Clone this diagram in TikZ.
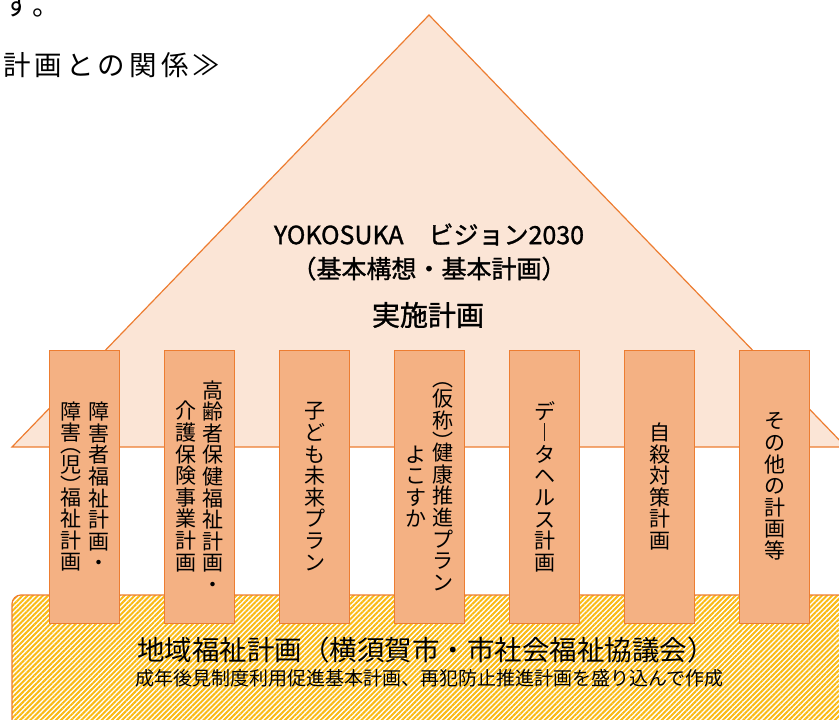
\documentclass[tikz,border=0pt]{standalone}
\usepackage{fontspec}
\setmainfont{Noto Sans CJK JP}
\newfontfamily\headfont{Noto Sans CJK JP}[LetterSpace=15]
\newfontfamily\rooffont{Noto Sans CJK JP}[FakeBold=1.2]
\usetikzlibrary{positioning, patterns.meta}

\definecolor{roofpeach}{HTML}{FBE5D6}
\definecolor{pillarorange}{HTML}{F4B183}
\definecolor{lineorange}{HTML}{ED7D31}
\definecolor{stripegold}{HTML}{FABA14}

\newcommand{\tatefont}{\fontsize{21}{21.6}\selectfont}

\begin{document}
\begin{tikzpicture}[x=1pt, y=-1pt,
  roof/.style={draw=lineorange, fill=roofpeach, line width=1.2pt},
  pillar/.style={draw=lineorange, fill=pillarorange, line width=1pt,
    minimum width=70pt, minimum height=273pt, inner sep=0pt},
  tate/.style={align=center, font=\tatefont, inner sep=0pt},
  head/.style={anchor=base west, inner sep=0pt, font=\headfont\fontsize{27.5}{30}\selectfont}]
\useasboundingbox (0,0) rectangle (839,720);

% heading above the picture
\node[head] (su) at (3,16) {す。};
\node[head] (kankei) at (3,75) {計画との関係≫};

% base: community welfare plan
\draw[line width=1.2pt, draw=lineorange, rounded corners=9pt, preaction={fill=white},
  pattern={Lines[angle=45, distance=3.6pt, line width=2pt]}, pattern color=stripegold]
  (12,595) rectangle (870,750);

% roof
\draw[roof] (429,15) -- (846,447) -- (12,447) -- cycle;
\node[font=\rooffont\fontsize{25}{34}\selectfont, align=center] (vision) at (429,252)
  {YOKOSUKA　ビジョン2030\\（基本構想・基本計画）};
\node[font=\rooffont\fontsize{28}{30}\selectfont] (jisshi) at (428,315) {実施計画};

% pillars
\foreach \i in {1,...,7}
  \node[pillar] (p\i) at ({84.5+115*(\i-1)}, 486.5) {};

\node[tate] (t1a) at ([xshift=14pt]p1.center) {障\\害\\者\\福\\祉\\計\\画\\・};
\node[tate] (t1b) at ([xshift=-14pt]p1.center)
  {障\\害\\[-10pt]︵\\[-1pt]児\\[-1pt]︶\\[-10pt]福\\祉\\計\\画};
\node[tate] (t2a) at ([xshift=13.5pt]p2.center) {高\\齢\\者\\保\\健\\福\\祉\\計\\画\\・};
\node[tate] (t2b) at ([xshift=-13.5pt]p2.center) {介\\護\\保\\険\\事\\業\\計\\画};
\node[tate] (t3) at (p3.center) {子\\ど\\も\\未\\来\\プ\\ラ\\ン};
\node[tate] (t4a) at ([xshift=13.5pt]p4.center)
  {︵\\[-1pt]仮\\称\\[-1pt]︶\\[-10pt]健\\康\\推\\進\\プ\\ラ\\ン};
\node[tate] (t4b) at ([xshift=-13.5pt]p4.center) {よ\\こ\\す\\か};
\node[tate] (t5) at (p5.center) {デ\\︱\\タ\\ヘ\\ル\\ス\\計\\画};
\node[tate] (t6) at (p6.center) {自\\殺\\対\\策\\計\\画};
\node[tate] (t7) at (p7.center) {そ\\の\\他\\の\\計\\画\\等};

% base texts
\node[font=\fontsize{27.5}{30}\selectfont] (chiiki) at (426,650)
  {地域福祉計画（横須賀市・市社会福祉協議会）};
\node[font=\fontsize{19}{21}\selectfont] (seinen) at (429.5,678)
  {成年後見制度利用促進基本計画、再犯防止推進計画を盛り込んで作成};
\end{tikzpicture}
\end{document}
